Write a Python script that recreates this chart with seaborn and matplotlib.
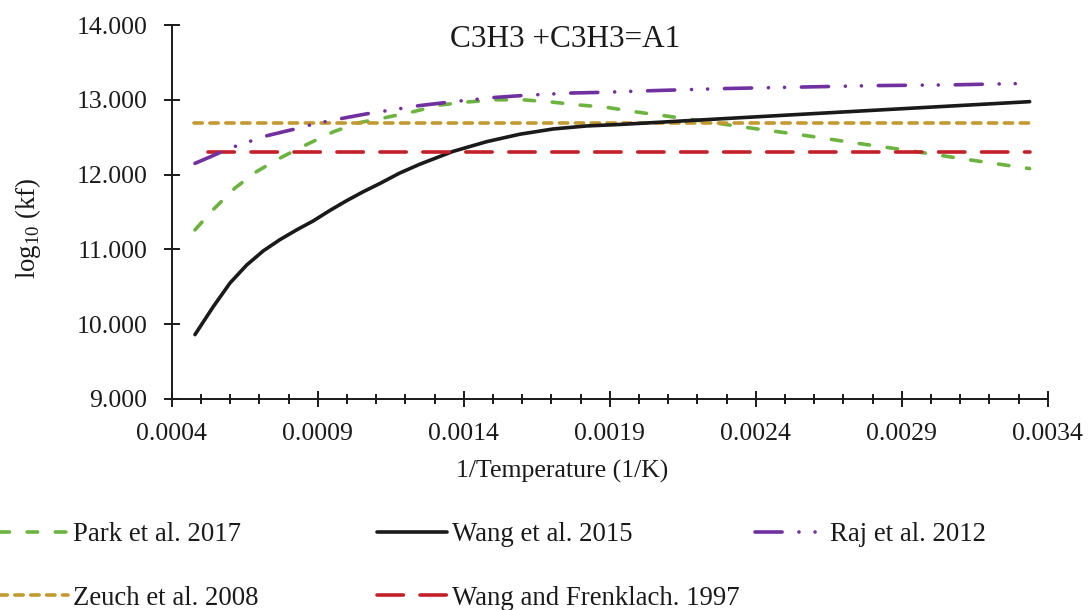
import numpy as np
import pandas as pd
import matplotlib
matplotlib.use("Agg")
import matplotlib.pyplot as plt
import seaborn as sns
from matplotlib.ticker import MultipleLocator, FixedLocator, FormatStrFormatter

sns.set_theme(style="white")
plt.rcParams['font.family'] = ['Liberation Serif', 'DejaVu Serif']
plt.rcParams['mathtext.fontset'] = 'custom'
plt.rcParams['mathtext.rm'] = 'Liberation Serif'

# ---- data ----
wang2015_x = [0.000479, 0.000541, 0.000599, 0.000656, 0.000713, 0.000770, 0.000827,
              0.000884, 0.000941, 0.000998, 0.001055, 0.001112, 0.00118, 0.00125, 0.001363,
              0.001478, 0.001592, 0.001706, 0.00182, 0.001934, 0.00262, 0.003338]
wang2015_y = [9.86, 10.23, 10.55, 10.79, 10.98, 11.13, 11.26,
              11.38, 11.52, 11.65, 11.77, 11.88, 12.02, 12.14, 12.31,
              12.44, 12.54, 12.61, 12.65, 12.67, 12.82, 12.975]

park_x = [0.000479, 0.000541, 0.000616, 0.00069, 0.00077, 0.00085, 0.000952, 0.001036,
          0.001129, 0.001226, 0.001318, 0.001409, 0.001512, 0.001603, 0.0017, 0.001797,
          0.001888, 0.001986, 0.002174, 0.002368, 0.002557, 0.002745, 0.002927,
          0.003127, 0.003338]
park_y = [11.26, 11.53, 11.82, 12.04, 12.22, 12.38, 12.57, 12.69,
          12.76, 12.84, 12.93, 12.97, 13.00, 13.00, 12.97, 12.93,
          12.90, 12.84, 12.74, 12.63, 12.53, 12.42, 12.32,
          12.20, 12.08]

raj_x = [0.000479, 0.000533, 0.000584, 0.000633, 0.000726, 0.000779, 0.000833, 0.00089,
         0.000981, 0.001036, 0.001092, 0.001147, 0.001243, 0.001352, 0.0015, 0.001612,
         0.001763, 0.001877, 0.002026, 0.002288, 0.002551, 0.002813, 0.003076, 0.003338]
raj_y = [12.15, 12.24, 12.33, 12.40, 12.52, 12.57, 12.62, 12.68,
         12.75, 12.79, 12.83, 12.86, 12.92, 12.97, 13.03, 13.06,
         13.09, 13.10, 13.12, 13.15, 13.17, 13.19, 13.20, 13.22]

zeuch_x = [0.000476, 0.003338]
zeuch_y = [12.695, 12.695]

wf_x = [0.000523, 0.003338]
wf_y = [12.298, 12.298]

labels = ["Park et al. 2017", "Zeuch et al. 2008", "Wang et al. 2015",
          "Wang and Frenklach. 1997", "Raj et al. 2012"]
xticks = [0.0004, 0.0009, 0.0014, 0.0019, 0.0024, 0.0029, 0.0034]
yticks = [9, 10, 11, 12, 13, 14]

fig = plt.figure(figsize=(10.88, 6.10), dpi=100)
ax = fig.add_axes([0.158, 0.346, 0.805, 0.613])

lw = 2.6
common = dict(ax=ax, lw=lw, dash_capstyle='round', solid_capstyle='round')
sns.lineplot(x=park_x, y=park_y, color="#6DB33F",
             linestyle=(0, (2.9, 4.9)), label=labels[0], **common)
sns.lineplot(x=zeuch_x, y=zeuch_y, color="#C49A30",
             linestyle=(0, (2.3, 2.1)), label=labels[1], **common)
sns.lineplot(x=wang2015_x, y=wang2015_y, color="#1a1a1a",
             linestyle="-", label=labels[2], **common)
sns.lineplot(x=wf_x, y=wf_y, color="#C4202A",
             linestyle=(0, (7.3, 4.6)), label=labels[3], **common)
sns.lineplot(x=raj_x, y=raj_y, color="#7030A0",
             linestyle=(0, (7.5, 4.67, 0.01, 4.44, 0.01, 4.67)), label=labels[4], **common)

ax.set_xlim(0.0004, 0.0034)
ax.set_ylim(9, 14)
ax.xaxis.set_major_locator(FixedLocator(xticks))
ax.xaxis.set_minor_locator(MultipleLocator(0.0001))
ax.yaxis.set_major_locator(FixedLocator(yticks))
ax.xaxis.set_major_formatter(FormatStrFormatter('%.4f'))
ax.yaxis.set_major_formatter(FormatStrFormatter('%.3f'))

for s in ['top', 'right']:
    ax.spines[s].set_visible(False)
for s in ['left', 'bottom']:
    ax.spines[s].set_color('#1a1a1a')
    ax.spines[s].set_linewidth(1.4)

ax.tick_params(axis='x', which='major', direction='inout', length=11, width=1.4,
               color='#1a1a1a', labelsize=18.5, labelcolor='#1a1a1a', pad=12, bottom=True)
ax.tick_params(axis='y', which='major', direction='inout', length=11, width=1.4,
               color='#1a1a1a', labelsize=18.5, labelcolor='#1a1a1a', pad=12, left=True)
ax.tick_params(axis='x', which='minor', direction='inout', length=7.7, width=1.4,
               color='#1a1a1a', bottom=True)

ax.set_xlabel("1/Temperature (1/K)", fontsize=18.5, color='#1a1a1a')
ax.xaxis.set_label_coords(0.445, -0.163)
ax.set_ylabel(r"log$_{10}$ (kf)", fontsize=19.3, color='#1a1a1a')
ax.yaxis.set_label_coords(-0.147, 0.457)

ax.text(0.449, 1.0, "C3H3 +C3H3=A1", transform=ax.transAxes, ha='center', va='top',
        fontsize=22.5, color='#1a1a1a')

handles, labs = ax.get_legend_handles_labels()
if ax.get_legend():
    ax.get_legend().remove()
groups = [([0, 1], -0.002), ([2, 3], 0.3465), ([4], 0.694)]
for idx, xpos in groups:
    lg = fig.legend([handles[i] for i in idx], [labs[i] for i in idx],
                    loc='upper left', bbox_to_anchor=(xpos, 1 - 522 / 610),
                    bbox_transform=fig.transFigure, ncol=1, frameon=False,
                    fontsize=19.3, handlelength=2.6, handletextpad=0.19,
                    labelspacing=1.45, borderaxespad=0, borderpad=0)
    for t in lg.get_texts():
        t.set_color('#1a1a1a')

fig.savefig("out.png", dpi=100)
